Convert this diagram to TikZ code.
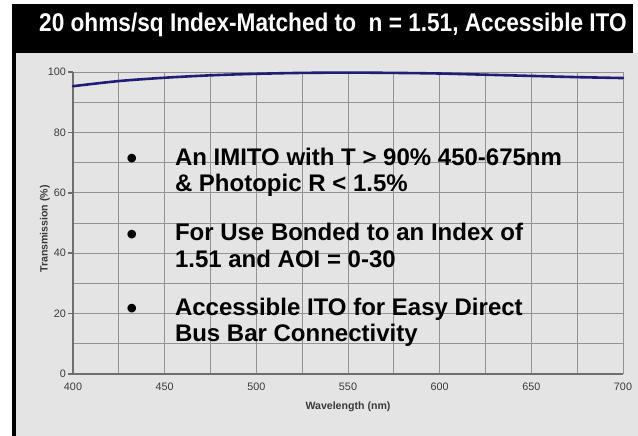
\documentclass[tikz,border=0pt]{standalone}
\usepackage{fontspec}
\setmainfont{Liberation Sans}
\definecolor{panel}{HTML}{E4E4E4}
\definecolor{gridc}{HTML}{939393}
\definecolor{axisc}{HTML}{6E6E6E}
\definecolor{curvec}{HTML}{1E1E78}
\definecolor{labc}{HTML}{3A3A3A}
\begin{document}
\begin{tikzpicture}[x=1pt,y=-1pt,
  every node/.style={inner sep=0pt, outer sep=0pt},
  titletext/.style={text=white, font=\fontsize{25.6}{28}\selectfont\bfseries, anchor=base},
  bullettext/.style={text=black, font=\fontsize{24}{26}\selectfont\bfseries, anchor=base west},
  bulletmark/.style={text=black, font=\fontsize{30}{32}\selectfont\bfseries, anchor=base},
  ticklabel/.style={text=labc, font=\fontsize{10.8}{12}\selectfont},
  axislabel/.style={text=labc, font=\fontsize{10.6}{12}\selectfont\bfseries},
  gridline/.style={draw=gridc, line width=0.9pt},
  axisline/.style={draw=axisc, line width=1.5pt},
  curveline/.style={draw=curvec, line width=2.6pt, line cap=round}]
\useasboundingbox (0,0) rectangle (638,436);
\fill[white] (0,0) rectangle (638,436);
\fill[panel] (16,53) rectangle (638,436);
\fill[black] (12,4) rectangle (633,53);
\fill[black] (12,53) rectangle (16,436);
\node[titletext] (title) at (333,31.7) {\scalebox{0.884}[1]{20 ohms/sq Index-Matched to \ n = 1.51, Accessible ITO}};
\begin{scope}[xshift=73pt, yshift=-374pt, x=1.83333pt, y=3.02pt]
  \foreach \w in {25,50,...,275} \draw[gridline] (\w,0) -- (\w,100);
  \foreach \t in {10,20,...,90} \draw[gridline] (0,\t) -- (300,\t);
  \draw[gridline] (0,100) -- (300,100) -- (300,0);
  \draw[axisline] (0,100) -- (0,0) -- (300,0);
  \foreach \t in {0,20,40,60,80,100} {
    \draw[axisline] (0,\t) -- ++(-5pt,0);
    \node[ticklabel, anchor=east] (yl\t) at ([xshift=-7pt]0,\t) {\t};
  }
  \foreach \w/\lab in {0/400,50/450,100/500,150/550,200/600,250/650,300/700}
    \node[ticklabel] (xl\lab) at ([yshift=-13pt]\w,0) {\lab};
  \draw[curveline] plot[smooth] coordinates {(0,95.3) (25,97.0) (50,98.1) (75,98.9) (100,99.4) (125,99.7) (150,99.8) (175,99.7) (200,99.5) (225,99.1) (250,98.7) (275,98.3) (300,98.0)};
\end{scope}
\node[axislabel, rotate=90] (ylab) at (45,229) {Transmission (\%)};
\node[axislabel] (xlab) at (348,407) {Wavelength (nm)};
\node[bulletmark] (m1) at (132,168.5) {•};
\node[bullettext] (t1a) at (175,165) {An IMITO with T > 90\% 450-675nm};
\node[bullettext] (t1b) at (175,191) {\& Photopic R < 1.5\%};
\node[bulletmark] (m2) at (132,244.5) {•};
\node[bullettext] (t2a) at (175,240) {For Use Bonded to an Index of};
\node[bullettext] (t2b) at (175,267) {1.51 and AOI = 0-30};
\node[bulletmark] (m3) at (132,318.5) {•};
\node[bullettext] (t3a) at (175,315) {Accessible ITO for Easy Direct};
\node[bullettext] (t3b) at (175,341) {Bus Bar Connectivity};
\end{tikzpicture}
\end{document}
